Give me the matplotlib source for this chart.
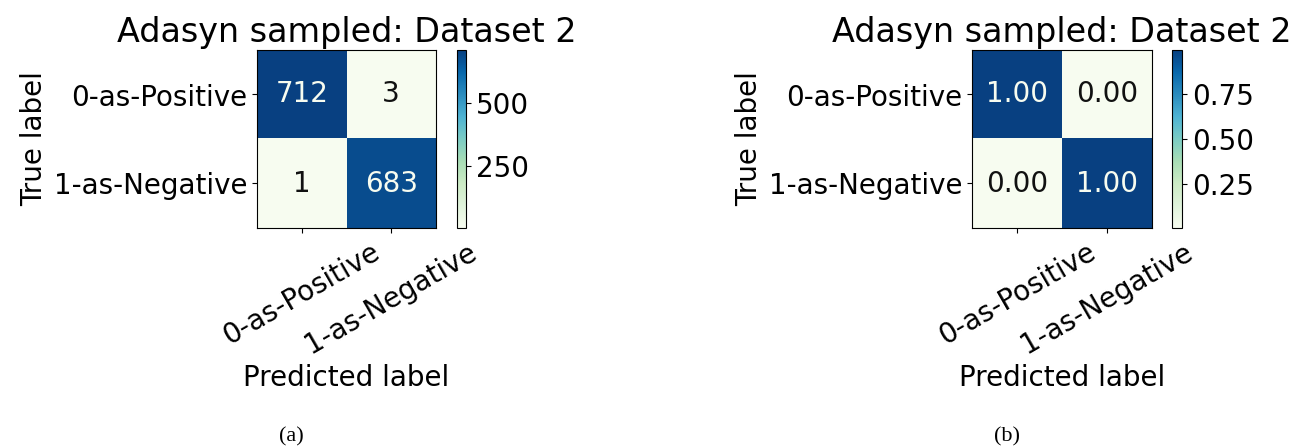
import numpy as np
import matplotlib
matplotlib.use("Agg")
import matplotlib.pyplot as plt

# ── Data ─────────────────────────────────────────────────────────────────────
class_names = ["0-as-Positive", "1-as-Negative"]
cm_counts = np.array([[712, 3],
                      [1, 683]])
title = "Adasyn sampled: Dataset 2"
captions = ["(a)", "(b)"]

cm_norm = cm_counts / cm_counts.sum(axis=1, keepdims=True)

# ── Style ────────────────────────────────────────────────────────────────────
plt.rcParams.update({
    "font.family": "DejaVu Sans",
    "font.size": 20,
    "axes.titlesize": 24,
})

W, H = 1309, 448
fig = plt.figure(figsize=(W / 100, H / 100), dpi=100)


def px_axes(x0, y0, x1, y1):
    """Axes from pixel box (top-left origin)."""
    return fig.add_axes([x0 / W, 1 - y1 / H, (x1 - x0) / W, (y1 - y0) / H])


def draw_cm(ax, cax, mat, fmt):
    cmap = plt.get_cmap("GnBu")
    im = ax.imshow(mat, cmap=cmap, aspect="auto", interpolation="nearest")
    thresh = (mat.max() + mat.min()) / 2.0
    for i in range(mat.shape[0]):
        for j in range(mat.shape[1]):
            color = cmap(0.0) if mat[i, j] > thresh else "#111111"
            ax.text(j, i, format(mat[i, j], fmt), ha="center", va="center",
                    color=color, fontsize=20)
    ax.set_xticks(range(len(class_names)))
    ax.set_yticks(range(len(class_names)))
    ax.set_xticklabels(class_names, rotation=30, ha="center")
    ax.set_yticklabels(class_names)
    ax.set_xlabel("Predicted label")
    ax.set_ylabel("True label")
    ax.set_title(title)
    fig.colorbar(im, cax=cax)


ax_a = px_axes(257, 50, 436, 228)
cax_a = px_axes(457, 50, 466, 228)
draw_cm(ax_a, cax_a, cm_counts, "d")

ax_b = px_axes(972, 50, 1152, 228)
cax_b = px_axes(1172, 50, 1182, 228)
draw_cm(ax_b, cax_b, cm_norm, ".2f")

# sub-figure captions
for cap, xc in zip(captions, [291, 1007]):
    fig.text(xc / W, 1 - 437 / H, cap, ha="center", va="center",
             family="Liberation Serif", fontsize=16)

fig.savefig("out.png", dpi=100)
